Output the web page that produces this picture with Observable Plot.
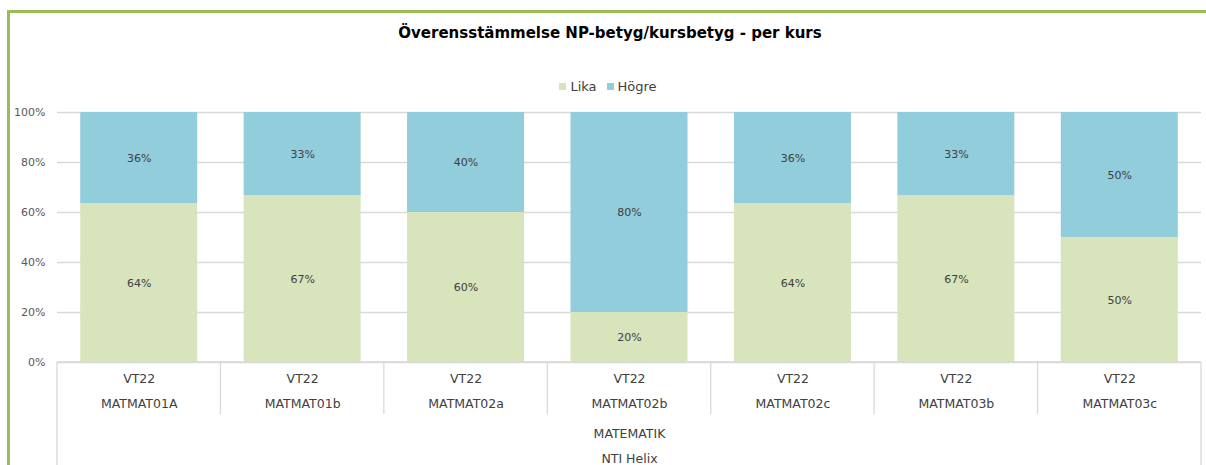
<!DOCTYPE html>
<html>
<head>
<meta charset="utf-8">
<script src="https://cdn.jsdelivr.net/npm/d3@7"></script>
<script src="https://cdn.jsdelivr.net/npm/@observablehq/plot@0.6"></script>
<style>
  html, body { margin: 0; padding: 0; background: #fff; }
  #wrap { position: relative; width: 1206px; height: 465px; overflow: hidden; font-family: "DejaVu Sans", sans-serif; }
  #frame { position: absolute; left: 7px; top: 10px; width: 1300px; height: 600px; border-left: 3px solid #9BBB59; border-top: 3px solid #9BBB59; box-sizing: border-box; }
  #title { position: absolute; left: 0; width: 1220px; top: 24px; text-align: center; font-size: 15px; font-weight: bold; color: #000; }
  #legend { position: absolute; left: 0; width: 1216px; top: 79px; text-align: center; font-size: 13px; color: #404040; }
  #legend span.item { margin: 0 5px; }
  #legend span.sw { display: inline-block; width: 7px; height: 7px; margin-right: 4px; vertical-align: 1px; }
  #chart { position: absolute; left: 0; top: 100px; }
</style>
</head>
<body>
<div id="wrap">
  <div id="frame"></div>
  <div id="title"></div>
  <div id="legend"></div>
  <div id="chart"></div>
</div>
<script>
const title = "Överensstämmelse NP-betyg/kursbetyg - per kurs";
const courses = ["MATMAT01A", "MATMAT01b", "MATMAT02a", "MATMAT02b", "MATMAT02c", "MATMAT03b", "MATMAT03c"];
const term = "VT22";
const subject = "MATEMATIK";
const school = "NTI Helix";
const series = ["Lika", "Högre"];
const colors = ["#D8E4BC", "#92CDDC"];
const lika = [0.636, 0.667, 0.60, 0.20, 0.636, 0.667, 0.50];
const hogre = [0.364, 0.333, 0.40, 0.80, 0.364, 0.333, 0.50];
const yTicks = [0, 0.2, 0.4, 0.6, 0.8, 1.0];

document.getElementById("title").textContent = title;
const leg = document.getElementById("legend");
series.forEach((s, i) => {
  const it = document.createElement("span");
  it.className = "item";
  it.innerHTML = `<span class="sw" style="background:${colors[i]}"></span>${s}`;
  leg.appendChild(it);
});

const data = [];
courses.forEach((c, i) => {
  data.push({course: c, series: "Lika", value: lika[i]});
  data.push({course: c, series: "Högre", value: hogre[i]});
});

const fontFamily = "DejaVu Sans, sans-serif";
const plot = Plot.plot({
  width: 1206,
  height: 365,
  marginTop: 12,
  marginBottom: 103,
  marginLeft: 57,
  marginRight: 5,
  style: {fontFamily, fontSize: "11px", color: "#595959", background: "transparent", overflow: "visible"},
  x: {domain: courses, paddingInner: 0.284, paddingOuter: 0.142, round: false, label: null, axis: null},
  y: {domain: [0, 1], label: null, axis: null},
  color: {domain: series, range: colors},
  marks: [
    Plot.gridY(yTicks, {stroke: "#D9D9D9", strokeOpacity: 1, strokeWidth: 1.3}),
    Plot.axisY(yTicks, {tickSize: 0, tickPadding: 12, tickFormat: d => Math.round(d * 100) + "%", fontSize: 11, fill: "#595959"}),
    Plot.barY(data, Plot.stackY({x: "course", y: "value", fill: "series", order: series})),
    Plot.text(data, Plot.stackY({x: "course", y: "value", z: "series", text: d => Math.round(d.value * 100) + "%", fill: "#404040", fontSize: 11, order: series})),
    Plot.axisX({tickSize: 0, tickPadding: 2, tickFormat: d => `${term}\n${d}`, lineHeight: 2.05, fontSize: 12.5, fill: "#404040"}),
    Plot.text([subject], {frameAnchor: "bottom", dy: 75, fontSize: 12.5, fill: "#404040"}),
    Plot.text([school], {frameAnchor: "bottom", dy: 100, fontSize: 12.5, fill: "#404040"})
  ]
});
document.getElementById("chart").appendChild(plot);

// category divider lines, positioned from the plot's own x and y scales
const xs = plot.scale("x");
const ys = plot.scale("y");
const svg = d3.select(plot);
const y0 = ys.apply(0);
const bounds = courses.map(c => xs.apply(c) - (xs.step - xs.bandwidth) / 2);
bounds.push(bounds[bounds.length - 1] + xs.step);
const g = svg.append("g").attr("stroke", "#D9D9D9").attr("stroke-width", 1.3);
g.append("line").attr("x1", bounds[0]).attr("x2", bounds[bounds.length - 1]).attr("y1", y0).attr("y2", y0);
bounds.forEach((b, i) => {
  const outer = i === 0 || i === bounds.length - 1;
  g.append("line").attr("x1", b).attr("x2", b).attr("y1", y0).attr("y2", outer ? 365 : y0 + 52);
});
</script>
</body>
</html>
